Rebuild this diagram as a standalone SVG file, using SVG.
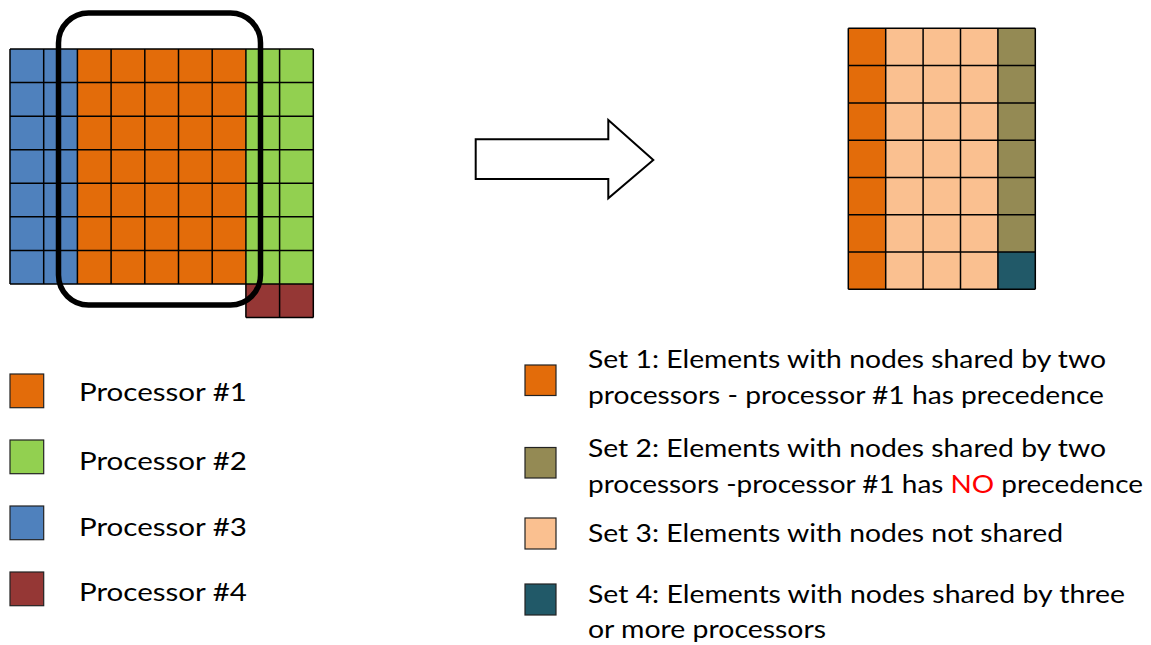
<svg xmlns="http://www.w3.org/2000/svg" width="1151" height="645" viewBox="0 0 1151 645">
<style>
.grid{fill:none;stroke:#000;stroke-width:1.5}
.lg{stroke:#222;stroke-width:1.2}
.t{font-family:Lato,"Liberation Sans",sans-serif;font-size:25px;fill:#000}
.o{fill:#E36C0A}.g{fill:#92D050}.b{fill:#4F81BD}.r{fill:#953735}
.lo{fill:#FAC090}.ol{fill:#948A54}.te{fill:#215968}
</style>
<rect width="1151" height="645" fill="#fff"/>
<g id="left-mesh">
<rect class="b" x="10" y="49" width="67.4" height="235"/>
<rect class="o" x="77.4" y="49" width="168.5" height="235"/>
<rect class="g" x="245.9" y="49" width="67.4" height="235"/>
<rect class="r" x="245.9" y="284" width="67.4" height="33.5"/>
<path class="grid" d="M10 49V284M43.7 49V284M77.4 49V284M111.1 49V284M144.8 49V284M178.5 49V284M212.2 49V284M245.9 49V317.5M279.6 49V317.5M313.3 49V317.5M10 49H313.3M10 82.57H313.3M10 116.14H313.3M10 149.71H313.3M10 183.29H313.3M10 216.86H313.3M10 250.43H313.3M10 284H313.3M245.9 317.5H313.3"/>
</g>
<g id="selection">
<rect x="58.5" y="13" width="202" height="292" rx="30" ry="30" fill="none" stroke="#000" stroke-width="5.5"/>
</g>
<g id="connectors">
<polygon points="475.7,139.3 608.3,139.3 608.3,120 653.3,160 608.3,198.3 608.3,179 475.7,179" fill="#fff" stroke="#000" stroke-width="2"/>
</g>
<g id="right-mesh">
<rect class="o" x="848.3" y="28.3" width="37.4" height="261"/>
<rect class="lo" x="885.7" y="28.3" width="112.2" height="261"/>
<rect class="ol" x="997.9" y="28.3" width="37.4" height="223.7"/>
<rect class="te" x="997.9" y="252" width="37.4" height="37.3"/>
<path class="grid" d="M848.3 28.3V289.3M885.7 28.3V289.3M923.1 28.3V289.3M960.5 28.3V289.3M997.9 28.3V289.3M1035.3 28.3V289.3M848.3 28.3H1035.3M848.3 65.6H1035.3M848.3 102.9H1035.3M848.3 140.2H1035.3M848.3 177.5H1035.3M848.3 214.7H1035.3M848.3 252H1035.3M848.3 289.3H1035.3"/>
</g>
<g id="legend-p1"><rect class="o lg" x="10" y="374" width="33.7" height="33.7"/><text class="t" x="79" y="400.7" textLength="168" lengthAdjust="spacingAndGlyphs">Processor #1</text></g>
<g id="legend-p2"><rect class="g lg" x="10" y="440" width="33.7" height="33.7"/><text class="t" x="79" y="470" textLength="168" lengthAdjust="spacingAndGlyphs">Processor #2</text></g>
<g id="legend-p3"><rect class="b lg" x="10" y="506" width="33.7" height="33.7"/><text class="t" x="79" y="535.7" textLength="168" lengthAdjust="spacingAndGlyphs">Processor #3</text></g>
<g id="legend-p4"><rect class="r lg" x="10" y="572" width="33.7" height="33.7"/><text class="t" x="79" y="600.7" textLength="168" lengthAdjust="spacingAndGlyphs">Processor #4</text></g>
<g id="legend-set1"><rect class="o lg" x="525" y="365" width="31" height="30.5"/>
<text class="t" x="588" y="368.3" textLength="518" lengthAdjust="spacingAndGlyphs">Set 1: Elements with nodes shared by two</text>
<text class="t" x="588" y="404" textLength="516" lengthAdjust="spacingAndGlyphs">processors - processor #1 has precedence</text></g>
<g id="legend-set2"><rect class="ol lg" x="525" y="447.5" width="31" height="30.5"/>
<text class="t" x="588" y="456.7" textLength="518" lengthAdjust="spacingAndGlyphs">Set 2: Elements with nodes shared by two</text>
<text class="t" x="588" y="492.7" textLength="555" lengthAdjust="spacingAndGlyphs">processors -processor #1 has <tspan fill="#FF0000">NO</tspan> precedence</text></g>
<g id="legend-set3"><rect class="lo lg" x="525" y="518" width="31" height="31"/>
<text class="t" x="588" y="541.7" textLength="475" lengthAdjust="spacingAndGlyphs">Set 3: Elements with nodes not shared</text></g>
<g id="legend-set4"><rect class="te lg" x="525" y="584" width="31" height="31"/>
<text class="t" x="588" y="602.7" textLength="537" lengthAdjust="spacingAndGlyphs">Set 4: Elements with nodes shared by three</text>
<text class="t" x="588" y="638.3" textLength="238" lengthAdjust="spacingAndGlyphs">or more processors</text></g>
</svg>
